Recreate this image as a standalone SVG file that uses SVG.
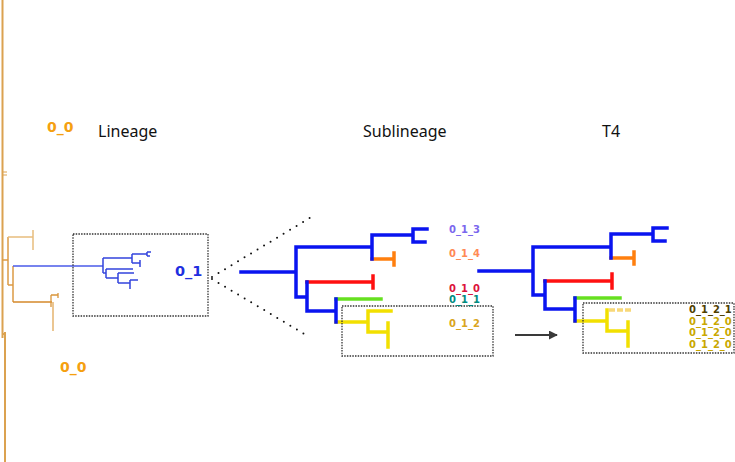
<svg xmlns="http://www.w3.org/2000/svg" width="735" height="462" viewBox="0 0 735 462">
<style>
.t{font-family:"Noto Sans","Open Sans",sans-serif;font-size:16px;fill:#111}
.lb{font-family:"DejaVu Sans",sans-serif;font-weight:bold}
.s{font-size:10px}
.thin{fill:none;stroke-linecap:butt}
.thick{fill:none;stroke-width:3.5;stroke-linecap:square;stroke-linejoin:miter}
.box{fill:none;stroke:#333;stroke-width:1.3;stroke-dasharray:1.5 1.2}
.dots{fill:none;stroke:#111;stroke-width:2;stroke-linecap:round;stroke-dasharray:0 7.6}
</style>
<defs>
<marker id="ah" viewBox="0 0 10 10" refX="9" refY="5" markerWidth="4.5" markerHeight="4.5" orient="auto" markerUnits="strokeWidth">
<path d="M0,0 L10,5 L0,10 z" fill="#3a3a3a"/>
</marker>
</defs>
<rect width="735" height="462" fill="#fff"/>

<g id="titles">
<text class="t" x="98" y="137">Lineage</text>
<text class="t" x="363" y="137">Sublineage</text>
<text class="t" x="602" y="137">T4</text>
</g>

<g id="lineage-tree">
<path class="thin" stroke="#dba250" stroke-width="2" d="M2.5,0 V338 M2.5,334 H5 M5,332 V462"/>
<path class="thin" stroke="#dba250" stroke-width="1.2" d="M2,172 H7 M2,175 H7"/>
<path class="thin" stroke="#dc9a45" stroke-width="1.5" d="M2,260 H8 M8,237 V285 M8,285 H13 M13,266 V302"/>
<path class="thin" stroke="#e8bd7e" stroke-width="1.5" d="M8,237 H33 M33,230 V250"/>
<path class="thin" stroke="#d4892a" stroke-width="1.5" d="M13,302 H52"/>
<path class="thin" stroke="#d9953a" stroke-width="1.3" d="M51,295 V307 M51,295 H58 M58,293 V298"/>
<path class="thin" stroke="#e6b877" stroke-width="1.6" d="M53,302 V331"/>
<path class="thin" stroke="#4a5ae8" stroke-width="1.3" d="M13,266 H103"/>
<text class="lb" x="47" y="132" font-size="14" fill="#f5a010">0_0</text>
<text class="lb" x="60" y="372" font-size="14" fill="#f5a010">0_0</text>
</g>

<g id="lineage-box">
<rect class="box" x="73" y="234" width="135" height="82"/>
<path class="thin" stroke="#3344dd" stroke-width="1.5" d="M103,258 V273 M103,258 H132 M132,254 V263 M132,254 H147 M147,252 V256 M147,252 H151 M147,256 H150 M132,263 H140 M140,260 V267 M103,273 H106 M106,269 V278 M106,269 H133 M106,278 H118 M118,273 V283 M118,273 H134 M118,283 H130 M130,280 V289 M130,280 H138"/>
<text class="lb" x="175" y="276" font-size="14.5" fill="#1f2fe0">0_1</text>
</g>

<g id="connectors">
<path class="dots" d="M212,277 L313,216"/>
<path class="dots" d="M212,279 L306,335"/>
<path fill="none" stroke="#3a3a3a" stroke-width="2" d="M515,335 H557" marker-end="url(#ah)"/>
</g>

<g id="sublineage-tree">
<path class="thick" stroke="#ff7f0e" d="M372,259 H394 M394,253 V265"/>
<path class="thick" stroke="#ff1010" d="M307,282 H373 M373,276 V288"/>
<path class="thick" stroke="#66e020" d="M336,299 H381"/>
<path class="thick" stroke="#f2e000" d="M336,322 H368 M368,311 V332 M368,311 H391 M368,332 H388 M388,323 V347"/>
<path class="thick" stroke="#0a14f0" d="M241,272 H296 M296,247 V297 M296,247 H372 M372,235 V259 M372,235 H413 M413,229 V242 M413,229 H427 M413,242 H425 M296,297 H307 M307,282 V311 M307,311 H336 M336,299 V322"/>
<rect class="box" x="342" y="306" width="151" height="50"/>
<text class="lb s" x="449" y="233" fill="#7b68ee">0_1_3</text>
<text class="lb s" x="449" y="257" fill="#ff8a55">0_1_4</text>
<text class="lb s" x="449" y="292" fill="#dc143c">0_1_0</text>
<text class="lb s" x="449" y="303" fill="#008b80">0_1_1</text>
<text class="lb s" x="449" y="327" fill="#daa520">0_1_2</text>
</g>

<g id="t4-tree">
<path class="thick" stroke="#ff7f0e" d="M611,258 H634 M634,252 V264"/>
<path class="thick" stroke="#ff1010" d="M545,281 H612 M612,274 V288"/>
<path class="thick" stroke="#66e020" d="M575,298 H620"/>
<path fill="none" stroke="#f8d878" stroke-width="3.5" stroke-dasharray="6 2" d="M609,310 H631"/>
<path class="thick" stroke="#f2e000" d="M575,321 H607 M607,310 V331 M607,331 H628 M628,322 V346"/>
<path class="thick" stroke="#0a14f0" d="M479,271 H533 M533,247 V295 M533,247 H611 M611,234 V258 M611,234 H653 M653,228 V241 M653,228 H667 M653,241 H665 M533,295 H545 M545,281 V309 M545,309 H575 M575,298 V321"/>
<rect class="box" x="583" y="303" width="151" height="50"/>
<text class="lb s" x="689" y="313" fill="#4f4000">0_1_2_1</text>
<text class="lb s" x="689" y="325" fill="#c9a800">0_1_2_0</text>
<text class="lb s" x="689" y="336" fill="#c9a800">0_1_2_0</text>
<text class="lb s" x="689" y="348" fill="#c9a800">0_1_2_0</text>
</g>
</svg>
